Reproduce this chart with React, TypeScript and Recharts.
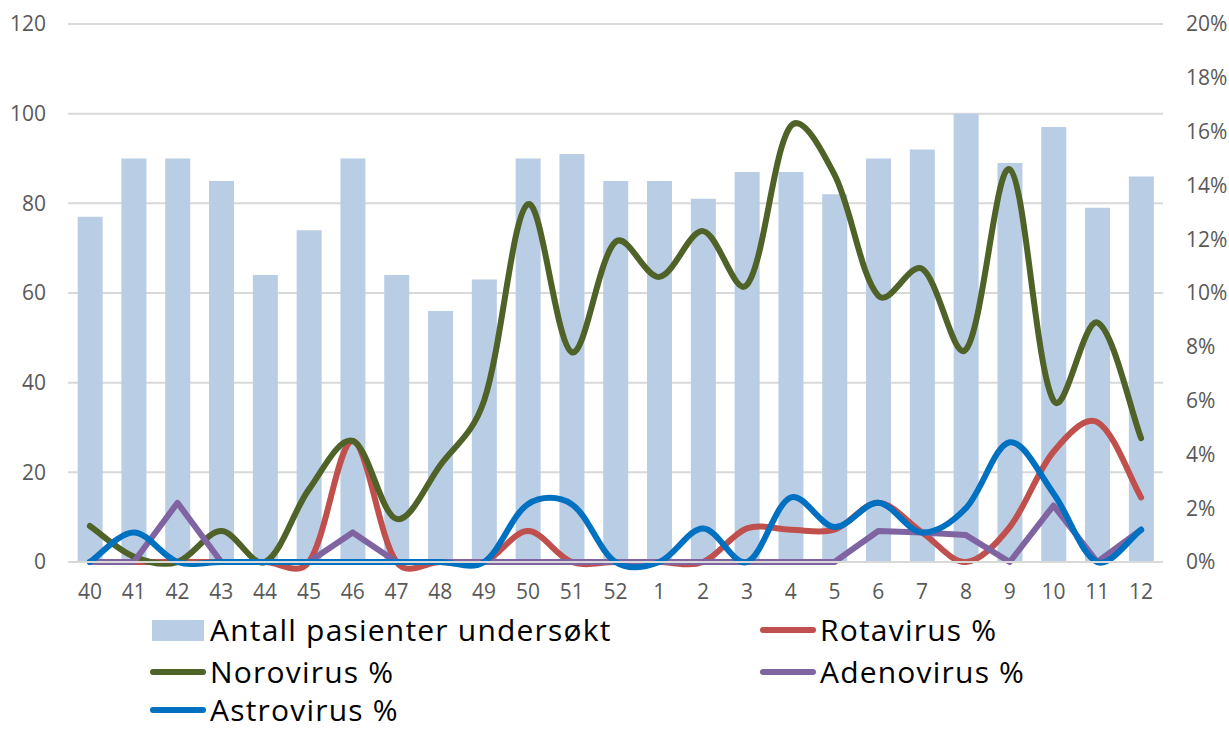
import React from 'react';
import {
  ComposedChart,
  Bar,
  Line,
  XAxis,
  YAxis,
  CartesianGrid,
} from 'recharts';

const weeks = ['40', '41', '42', '43', '44', '45', '46', '47', '48', '49', '50', '51', '52',
  '1', '2', '3', '4', '5', '6', '7', '8', '9', '10', '11', '12'];
const patients = [77, 90, 90, 85, 64, 74, 90, 64, 56, 63, 90, 91, 85, 85, 81, 87, 87, 82, 90, 92, 100, 89, 97, 79, 86];
const rotavirus = [0, 0, 0, 0, 0, 0, 4.5, 0, 0, 0, 1.15, 0, 0, 0, 0, 1.25, 1.2, 1.2, 2.2, 1.1, 0, 1.3, 4.1, 5.2, 2.4];
const norovirus = [1.34, 0.2, 0, 1.15, 0, 2.7, 4.5, 1.6, 3.6, 6.0, 13.3, 7.8, 11.9, 10.6, 12.3, 10.3, 16.2, 14.4, 9.9, 10.9, 7.9, 14.6, 6.0, 8.9, 4.6];
const adenovirus = [0, 0, 2.2, 0, 0, 0, 1.1, 0, 0, 0, 0, 0, 0, 0, 0, 0, 0, 0, 1.15, 1.1, 1.0, 0, 2.1, 0, 1.2];
const astrovirus = [0, 1.1, 0, 0, 0, 0, 0, 0, 0, 0, 2.15, 2.15, 0, 0, 1.25, 0, 2.4, 1.3, 2.2, 1.1, 2.0, 4.45, 2.55, 0, 1.2];
const leftTicks = [0, 20, 40, 60, 80, 100, 120];
const rightTicks = [0, 2, 4, 6, 8, 10, 12, 14, 16, 18, 20];

const data = weeks.map((week, i) => ({
  week,
  patients: patients[i],
  rota: rotavirus[i],
  noro: norovirus[i],
  adeno: adenovirus[i],
  astro: astrovirus[i],
}));

// smoothed line like Excel's: bezier, tangents half uniform / half chord-length weighted
const excelSmooth = (context: any) => {
  let pts: number[][] = [];
  const dist = (a: number[], b: number[]) => Math.hypot(b[0] - a[0], b[1] - a[1]);
  return {
    areaStart() {},
    areaEnd() {},
    lineStart() {
      pts = [];
    },
    point(x: number, y: number) {
      pts.push([+x, +y]);
    },
    lineEnd() {
      const n = pts.length;
      if (!n) return;
      context.moveTo(pts[0][0], pts[0][1]);
      const t = 1 / 3;
      for (let i = 0; i < n - 1; i++) {
        const p0 = pts[Math.max(i - 1, 0)];
        const p1 = pts[i];
        const p2 = pts[i + 1];
        const p3 = pts[Math.min(i + 2, n - 1)];
        const d0 = dist(p0, p1);
        const d1 = dist(p1, p2);
        const d2 = dist(p2, p3);
        const w1 = d0 + d1 > 0 ? (t * d1) / (d0 + d1) : 0;
        const w2 = d1 + d2 > 0 ? (t * d1) / (d1 + d2) : 0;
        const k1 = (w1 + 1 / 6) / 2;
        const k2 = (w2 + 1 / 6) / 2;
        context.bezierCurveTo(
          p1[0] + (p2[0] - p0[0]) * k1,
          p1[1] + (p2[1] - p0[1]) * k1,
          p2[0] - (p3[0] - p1[0]) * k2,
          p2[1] - (p3[1] - p1[1]) * k2,
          p2[0],
          p2[1]
        );
      }
    },
  };
};

const tickStyle = { fill: '#595959', fontSize: 21, fontFamily: '"Open Sans", sans-serif' };
const legendFont = { fontFamily: '"Open Sans", sans-serif', fontSize: 30, letterSpacing: 1.2, color: '#000' };

const legendItems = [
  { label: 'Antall pasienter undersøkt', color: '#B9CDE5', bar: true, x: 152, y: 630 },
  { label: 'Rotavirus %', color: '#C0504D', bar: false, x: 762, y: 630 },
  { label: 'Norovirus %', color: '#4F6228', bar: false, x: 152, y: 672 },
  { label: 'Adenovirus %', color: '#8064A2', bar: false, x: 762, y: 672 },
  { label: 'Astrovirus %', color: '#0070C0', bar: false, x: 152, y: 710 },
];

const App: React.FC = () => {
  return (
    <div style={{ position: 'absolute', left: 0, top: 0, width: 1229, height: 731, background: '#fff' }}>
      <ComposedChart
        width={1229}
        height={615}
        data={data}
        margin={{ top: 24, right: 0, left: 0, bottom: 0 }}
        barCategoryGap="22%"
      >
        <CartesianGrid yAxisId="left" vertical={false} stroke="#d9d9d9" strokeWidth={2} />
        <XAxis
          dataKey="week"
          height={53}
          axisLine={{ stroke: '#d9d9d9', strokeWidth: 2 }}
          tickLine={false}
          tickSize={0}
          tickMargin={22}
          tick={tickStyle}
          interval={0}
        />
        <YAxis
          yAxisId="left"
          width={68}
          domain={[0, 120]}
          ticks={leftTicks}
          axisLine={false}
          tickLine={false}
          tickSize={0}
          tickMargin={22}
          tick={tickStyle}
        />
        <YAxis
          yAxisId="right"
          orientation="right"
          width={66}
          domain={[0, 20]}
          ticks={rightTicks}
          axisLine={false}
          tickLine={false}
          tickSize={0}
          tickMargin={23}
          tick={{ ...tickStyle, textAnchor: 'start' }}
          tickFormatter={(v) => `${v}%`}
        />
        <Bar yAxisId="left" dataKey="patients" fill="#B9CDE5" isAnimationActive={false} />
        <Line yAxisId="right" dataKey="rota" type={excelSmooth as any} stroke="#C0504D" strokeWidth={6} dot={false} strokeLinecap="round" isAnimationActive={false} />
        <Line yAxisId="right" dataKey="noro" type={excelSmooth as any} stroke="#4F6228" strokeWidth={6} dot={false} strokeLinecap="round" isAnimationActive={false} />
        <Line yAxisId="right" dataKey="adeno" type="linear" stroke="#8064A2" strokeWidth={6} dot={false} strokeLinecap="round" strokeLinejoin="round" isAnimationActive={false} />
        <Line yAxisId="right" dataKey="astro" type={excelSmooth as any} stroke="#0070C0" strokeWidth={6} dot={false} strokeLinecap="round" isAnimationActive={false} />
      </ComposedChart>
      {legendItems.map((item) => (
        <div key={item.label}>
          {item.bar ? (
            <div style={{ position: 'absolute', left: item.x, top: item.y - 10, width: 52, height: 21, background: item.color }} />
          ) : (
            <div style={{ position: 'absolute', left: item.x - 2, top: item.y - 3, width: 56, height: 6, borderRadius: 3, background: item.color }} />
          )}
          <div style={{ ...legendFont, position: 'absolute', left: item.x + 58, top: item.y - 15, lineHeight: '30px', height: 30, whiteSpace: 'nowrap' }}>
            {item.label}
          </div>
        </div>
      ))}
    </div>
  );
};

export default App;
